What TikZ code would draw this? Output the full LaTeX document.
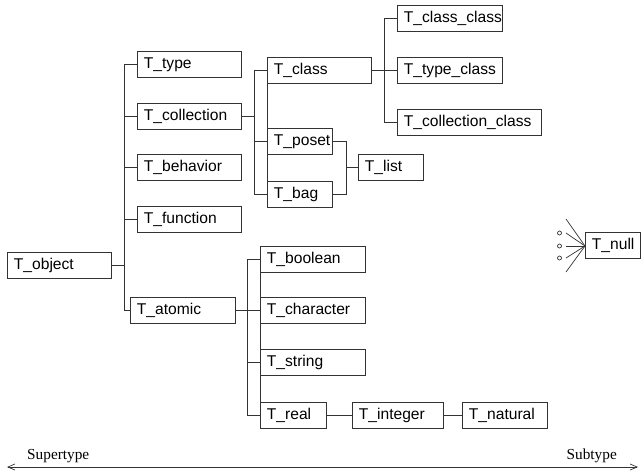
\documentclass[tikz,border=0pt]{standalone}
\usepackage{fontspec}
\setmainfont{Liberation Sans}
\newfontfamily\serifface{Liberation Serif}
\usetikzlibrary{arrows.meta,calc}
\tikzset{
  line/.style={draw=black!80, line width=0.9pt},
  tbox/.style={line, anchor=north west, minimum height=26pt, inner ysep=0pt,
    inner xsep=6.5pt, text width=#1, align=left,
    font=\fontsize{15.6}{18}\selectfont},
  axislabel/.style={font=\serifface\fontsize{15.3}{18}\selectfont, inner sep=0pt},
  dot/.style={line, line width=0.7pt}
}
\newcommand{\bx}[5]{\node[tbox={#4pt-13pt}] (#1) at (#2,-#3) {#5};}
\begin{document}
\begin{tikzpicture}[x=1pt,y=1pt]
\useasboundingbox (0,0) rectangle (642,-472);
% boxes
\bx{obj}{7}{252}{104}{T\_object}
\bx{type}{137}{51}{104}{T\_type}
\bx{coll}{137}{103}{104}{T\_collection}
\bx{beh}{137}{154}{104}{T\_behavior}
\bx{func}{137}{206}{104}{T\_function}
\bx{atomic}{130}{297}{105}{T\_atomic}
\bx{class}{267}{57}{104}{T\_class}
\bx{poset}{267}{128}{65}{T\_poset}
\bx{bag}{267}{181}{65}{T\_bag}
\bx{list}{358}{154}{65}{T\_list}
\bx{cc}{397}{5}{105}{T\_class\_class}
\bx{tc}{397}{57}{105}{T\_type\_class}
\bx{colc}{397}{109}{144}{T\_collection\_class}
\bx{bool}{260}{246}{105}{T\_boolean}
\bx{char}{260}{297}{105}{T\_character}
\bx{str}{260}{349}{105}{T\_string}
\bx{real}{260}{402}{66}{T\_real}
\bx{int}{352}{402}{91}{T\_integer}
\bx{nat}{462}{402}{85}{T\_natural}
\bx{null}{585}{232}{55}{T\_null}
% column edges
\draw[line] (class.north west) -- (bag.south west);
\draw[line] (bool.north west) -- (real.south west);
% T_object tree
\draw[line] (obj.east) -- ++(13,0);
\draw[line] (type.west) -- ++(-13,0) |- (atomic.west);
\draw[line] (coll.west) -- ++(-13,0);
\draw[line] (beh.west) -- ++(-13,0);
\draw[line] (func.west) -- ++(-13,0);
% collection
\draw[line] (coll.east) -- ++(13,0);
\draw[line] (class.west) -- ++(-13,0) |- (bag.west);
\draw[line] (poset.west) -- ++(-13,0);
% class
\draw[line] (class.east) -- ++(13,0);
\draw[line] (cc.west) -- ++(-13,0) |- (colc.west);
\draw[line] (tc.west) -- ++(-13,0);
% poset/bag -> list
\draw[line] (poset.east) -- ++(14,0) |- (bag.east);
\draw[line] (list.west) -- ++(-12,0);
% atomic
\draw[line] (atomic.east) -- ++(12,0);
\draw[line] (bool.west) -- ++(-13,0) |- (real.west);
\draw[line] (char.west) -- ++(-13,0);
\draw[line] (str.west) -- ++(-13,0);
% numbers
\draw[line] (real.east) -- (int.west);
\draw[line] (int.east) -- (nat.west);
% null
\coordinate (nullin) at (585,-246);
\foreach \yy in {219,233,246,258,272}
  \draw[line, line width=0.7pt] (566,-\yy) -- (nullin);
\foreach \yy in {233,246,258}
  \draw[dot] (559.5,-\yy) circle (2pt);
% axis
\coordinate (sup) at (7,-467);
\coordinate (sub) at (638,-467);
\draw[line, line width=0.7pt, {Straight Barb[length=7pt,width=6pt]}-{Straight Barb[length=7pt,width=6pt]}] (sup) -- (sub);
\node[axislabel, anchor=west] (suplab) at (27,-456) {Supertype};
\node[axislabel, anchor=east] (sublab) at (617,-456) {Subtype};
\end{tikzpicture}
\end{document}
